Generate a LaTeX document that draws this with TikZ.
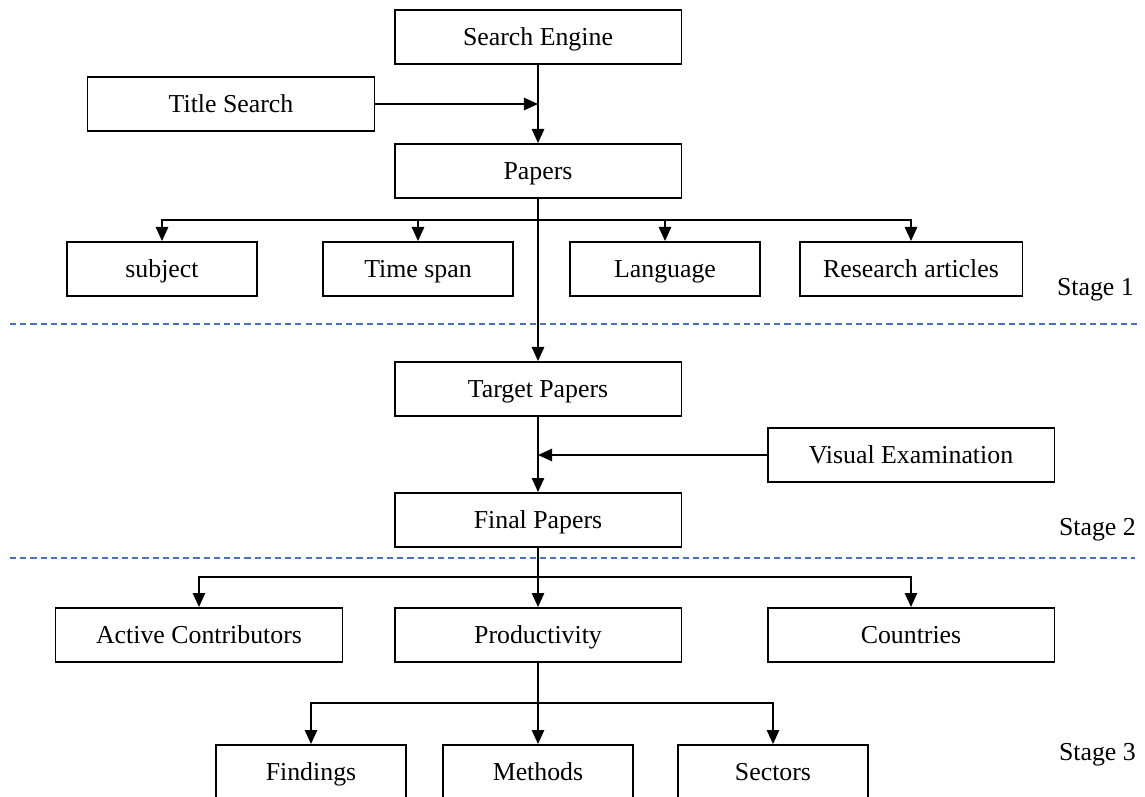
\documentclass[tikz,border=0pt]{standalone}
\usepackage{fontspec}
\setmainfont{Liberation Serif}
\usetikzlibrary{arrows.meta}
\definecolor{sepblue}{HTML}{4472C4}
\begin{document}
\begin{tikzpicture}[x=0.02cm,y=-0.02cm,
    box/.style={draw,line width=1.1pt,minimum width=5.74cm,minimum height=1.08cm,inner sep=0pt,
        text height=12pt,text depth=2.8pt,font=\fontsize{14.7}{17}\selectfont},
    small/.style={box,minimum width=3.8cm},
    link/.style={line width=1.1pt,-{Triangle[length=8pt,width=7pt]}},
    stage/.style={anchor=east,font=\fontsize{14.7}{17}\selectfont},
    sep/.style={draw=sepblue,dash pattern=on 3.5pt off 2.3pt,line width=0.9pt}]
    \useasboundingbox (0,0) rectangle (1145,796);
    % stage 1
    \node[box] (engine) at (538,37) {Search Engine};
    \node[box] (title) at (231,104) {Title Search};
    \node[box] (papers) at (538,171) {Papers};
    \foreach \n/\x/\t in {subject/162/subject,span/418/Time span,lang/665/Language}
        \node[small] (\n) at (\x,269) {\t};
    \node[small,minimum width=4.46cm] (articles) at (911,269) {Research articles};
    \draw[link] (engine) -- (papers);
    \draw[link] (title) -- (title -| engine);
    \coordinate (pbranch) at (538,220);
    \foreach \n in {subject,span,lang,articles}
        \draw[link] (pbranch) -| (\n);
    % stage 2
    \node[box] (target) at (538,389) {Target Papers};
    \node[box] (visual) at (911,455) {Visual Examination};
    \node[box] (final) at (538,520) {Final Papers};
    \draw[link] (papers) -- (target);
    \draw[link] (target) -- (final);
    \draw[link] (visual) -- (visual -| target);
    % stage 3
    \node[box] (active) at (199,635) {Active Contributors};
    \node[box] (prod) at (538,635) {Productivity};
    \node[box] (countries) at (911,635) {Countries};
    \foreach \n/\x/\t in {findings/311/Findings,methods/538/Methods,sectors/773/Sectors}
        \node[small] (\n) at (\x,772) {\t};
    \coordinate (fbranch) at (538,577);
    \coordinate (rbranch) at (538,703);
    \draw[line width=1.1pt] (final) -- (fbranch);
    \foreach \n in {active,prod,countries}
        \draw[link] (fbranch) -| (\n);
    \draw[line width=1.1pt] (prod) -- (rbranch);
    \foreach \n in {findings,methods,sectors}
        \draw[link] (rbranch) -| (\n);
    % separators and stage names
    \draw[sep] (10,324) -- (1140,324);
    \draw[sep] (10,558) -- (1135,558);
    \node[stage] (stage1) at (1140,290) {Stage 1};
    \node[stage] (stage2) at (1142,530) {Stage 2};
    \node[stage] (stage3) at (1142,755) {Stage 3};
\end{tikzpicture}
\end{document}
